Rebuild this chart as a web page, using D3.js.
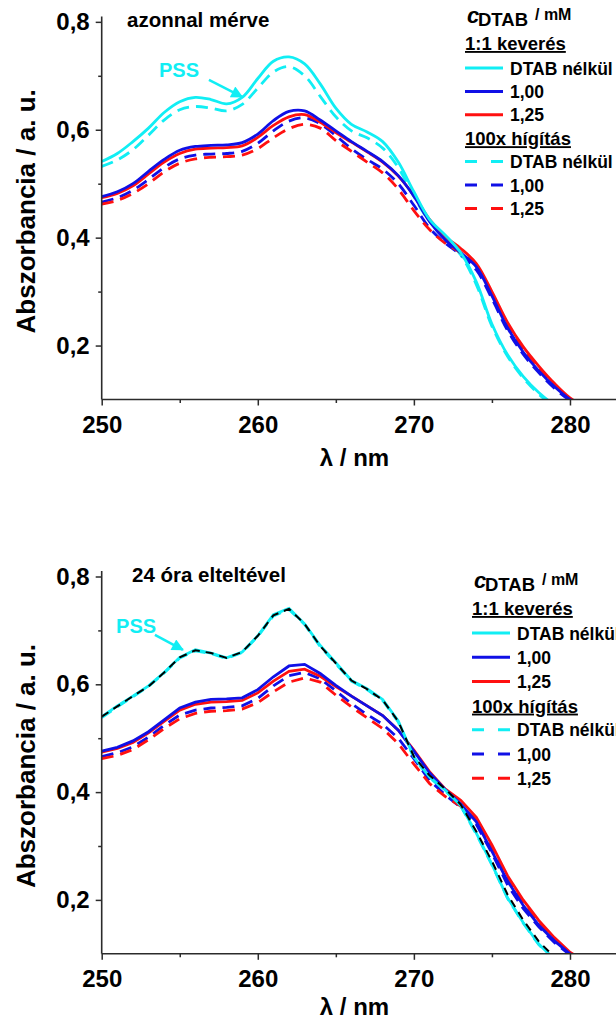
<!DOCTYPE html>
<html>
<head>
<meta charset="utf-8">
<script src="https://cdn.jsdelivr.net/npm/d3@7"></script>
<style>
  html, body { margin: 0; padding: 0; background: #fff; }
  svg { display: block; }
  text { font-family: "Liberation Sans", Arial, sans-serif; font-weight: bold; }
</style>
</head>
<body>
<svg id="chart" width="616" height="1018"></svg>
<script>
// ---------------- DATA ----------------
const wavelengths = [250,251,252,253,254,255,256,257,258,259,260,261,262,263,264,265,266,267,268,269,270,271,272,273,274,275,276,277,278,279,280,281];

// Panel 1: "azonnal mérve"
const topCyanSolid  = [0.541,0.556,0.578,0.603,0.632,0.652,0.660,0.656,0.648,0.660,0.695,0.727,0.735,0.722,0.685,0.640,0.610,0.596,0.578,0.540,0.485,0.434,0.405,0.372,0.318,0.240,0.183,0.143,0.113,0.090,0.074,0.061];
const topBlueSolid  = [0.476,0.485,0.500,0.523,0.545,0.562,0.569,0.571,0.572,0.576,0.592,0.617,0.634,0.635,0.618,0.598,0.578,0.560,0.541,0.515,0.477,0.430,0.396,0.372,0.346,0.292,0.233,0.188,0.153,0.124,0.100,0.082];
const topRedSolid   = [0.474,0.482,0.496,0.518,0.540,0.556,0.564,0.566,0.567,0.570,0.586,0.608,0.624,0.628,0.614,0.595,0.577,0.559,0.540,0.514,0.478,0.434,0.402,0.380,0.352,0.300,0.243,0.198,0.162,0.130,0.103,0.085];
const topCyanDashed = [0.532,0.544,0.563,0.590,0.618,0.637,0.643,0.640,0.635,0.647,0.677,0.707,0.717,0.700,0.662,0.624,0.598,0.585,0.566,0.530,0.476,0.430,0.400,0.368,0.313,0.236,0.180,0.140,0.110,0.087,0.070,0.058];
const topBlueDashed = [0.466,0.474,0.488,0.508,0.530,0.546,0.553,0.555,0.556,0.560,0.575,0.598,0.616,0.622,0.611,0.589,0.565,0.545,0.527,0.500,0.460,0.418,0.390,0.368,0.340,0.287,0.228,0.184,0.150,0.121,0.098,0.080];
const topRedDashed  = [0.462,0.469,0.482,0.500,0.522,0.538,0.546,0.549,0.550,0.553,0.565,0.585,0.602,0.610,0.603,0.580,0.560,0.540,0.520,0.490,0.450,0.415,0.390,0.372,0.348,0.296,0.238,0.193,0.158,0.127,0.101,0.083];

// Panel 2: "24 óra elteltével"
const botCyanSolid   = [0.540,0.560,0.578,0.597,0.622,0.650,0.664,0.658,0.649,0.660,0.690,0.729,0.741,0.712,0.672,0.640,0.607,0.592,0.572,0.532,0.465,0.428,0.404,0.375,0.324,0.266,0.204,0.158,0.118,0.090,0.072,0.060];
const botBlueSolid   = [0.476,0.483,0.495,0.512,0.534,0.556,0.567,0.572,0.573,0.575,0.590,0.614,0.634,0.637,0.620,0.598,0.578,0.560,0.542,0.515,0.476,0.436,0.405,0.378,0.345,0.290,0.235,0.190,0.153,0.124,0.100,0.082];
const botRedSolid    = [0.474,0.481,0.492,0.510,0.531,0.552,0.563,0.567,0.568,0.570,0.584,0.606,0.624,0.628,0.615,0.596,0.578,0.560,0.542,0.515,0.478,0.438,0.406,0.385,0.353,0.302,0.245,0.200,0.162,0.130,0.103,0.085];
const botCyanDashed  = [0.538,0.558,0.577,0.596,0.621,0.649,0.662,0.657,0.648,0.659,0.689,0.727,0.739,0.711,0.670,0.638,0.606,0.590,0.570,0.530,0.463,0.427,0.403,0.374,0.322,0.265,0.203,0.157,0.117,0.089,0.071,0.059];
const botBlueDashed  = [0.466,0.473,0.484,0.502,0.524,0.543,0.552,0.556,0.557,0.560,0.574,0.597,0.616,0.622,0.610,0.588,0.564,0.544,0.526,0.500,0.462,0.422,0.395,0.372,0.340,0.287,0.228,0.184,0.150,0.121,0.098,0.080];
const botRedDashed   = [0.462,0.468,0.479,0.497,0.518,0.536,0.546,0.550,0.551,0.554,0.566,0.586,0.604,0.612,0.604,0.580,0.558,0.538,0.518,0.490,0.452,0.416,0.392,0.374,0.348,0.296,0.238,0.193,0.158,0.127,0.101,0.083];
const botBlackDashed = [0.540,0.559,0.578,0.596,0.622,0.650,0.663,0.658,0.649,0.660,0.690,0.728,0.740,0.712,0.671,0.639,0.607,0.591,0.571,0.531,0.466,0.431,0.406,0.377,0.327,0.272,0.210,0.163,0.123,0.094,0.075,0.062];

// Ticks
const xMajorTicks = [250, 260, 270, 280];
const xMinorTicks = [255, 265, 275, 285];
const yMajorTicks = [0.2, 0.4, 0.6, 0.8];
const yMinorTicks = [0.3, 0.5, 0.7];
const yTickLabels = ["0,2", "0,4", "0,6", "0,8"];

// Legend
const legendTitle = { c: "c", sub: "DTAB", unit: "/ mM" };
const groupHeaders = ["1:1 keverés", "100x hígítás"];
const seriesLabels = ["DTAB nélkül", "1,00", "1,25"];
const panelTitles = ["azonnal mérve", "24 óra elteltével"];
const annotationText = "PSS";
const xAxisTitle = "λ / nm";
const yAxisTitle = "Abszorbancia / a. u.";

// ---------------- STYLE ----------------
const CYAN = "#11eef4", BLUE = "#1010e6", RED = "#ff1010";
const colors = [CYAN, BLUE, RED];

const svg = d3.select("#chart");
const defs = svg.append("defs");
defs.append("marker").attr("id", "arrowhead")
  .attr("viewBox", "0 0 10 10").attr("refX", 9).attr("refY", 5)
  .attr("markerWidth", 15).attr("markerHeight", 12).attr("markerUnits", "userSpaceOnUse")
  .attr("orient", "auto")
  .append("path").attr("d", "M0,0 L10,5 L0,10 z").attr("fill", CYAN);

const panels = [
  {
    y0: 399.5, k: 539.5, title: panelTitles[0], titleX: 127, xTitleOff: 66,
    solids: [topCyanSolid, topBlueSolid, topRedSolid],
    dashes: [topCyanDashed, topBlueDashed, topRedDashed],
    black: null, curve: d3.curveCatmullRom.alpha(0.5),
    legendX: 465, legendTop: 0,
    pss: { tx: 253.67, ty: 0.698, x1: 256.87, y1: 0.6925, x2: 259.0, y2: 0.661 }
  },
  {
    y0: 953.8, k: 539, title: panelTitles[1], titleX: 132, xTitleOff: 61,
    solids: [botCyanSolid, botBlueSolid, botRedSolid],
    dashes: [botCyanDashed, botBlueDashed, botRedDashed],
    black: botBlackDashed, curve: d3.curveLinear,
    legendX: 472, legendTop: 565,
    pss: { tx: 250.92, ty: 0.6955, x1: 253.41, y1: 0.6918, x2: 255.2, y2: 0.664 }
  }
];

const x = d3.scaleLinear().domain([250, 283]).range([101.7, 616.8]);

panels.forEach((p, pi) => {
  const y = d3.scaleLinear().domain([0.1, 0.81]).range([p.y0, p.y0 - 0.71 * p.k]);
  const g = svg.append("g");

  const clipId = "clip" + pi;
  defs.append("clipPath").attr("id", clipId).append("rect")
    .attr("x", x(250)).attr("y", y(0.81) - 10)
    .attr("width", 620 - x(250)).attr("height", y(0.1) - y(0.81) + 10);

  const line = d3.line().x((d, i) => x(wavelengths[i])).y(d => y(d)).curve(p.curve);
  const plot = g.append("g").attr("clip-path", `url(#${clipId})`);

  // dashed series
  p.dashes.forEach((s, i) => {
    plot.append("path").datum(s).attr("d", line)
      .attr("fill", "none").attr("stroke", colors[i]).attr("stroke-width", 2.8)
      .attr("stroke-dasharray", "12,7");
  });
  // solid series
  [2, 1, 0].forEach(i => {
    plot.append("path").datum(p.solids[i]).attr("d", line)
      .attr("fill", "none").attr("stroke", colors[i]).attr("stroke-width", 2.8);
  });
  if (p.black) {
    plot.append("path").datum(p.black).attr("d", line)
      .attr("fill", "none").attr("stroke", "#000").attr("stroke-width", 2)
      .attr("stroke-dasharray", "8,6");
  }

  // axes
  const axisColor = "#2b2b2b";
  const xAxis = g.append("g").attr("transform", `translate(0,${y(0.1)})`)
    .call(d3.axisBottom(x).tickValues(xMajorTicks).tickSize(6).tickPadding(10).tickFormat(d3.format("d")));
  const xMinor = g.append("g").attr("transform", `translate(0,${y(0.1)})`)
    .call(d3.axisBottom(x).tickValues(xMinorTicks).tickSize(3.5).tickFormat(""));
  const yAxis = g.append("g").attr("transform", `translate(${x(250)},0)`)
    .call(d3.axisLeft(y).tickValues(yMajorTicks).tickSize(6).tickPadding(6)
      .tickFormat((d, i) => yTickLabels[i]));
  const yMinor = g.append("g").attr("transform", `translate(${x(250)},0)`)
    .call(d3.axisLeft(y).tickValues(yMinorTicks).tickSize(3.5).tickFormat(""));
  [xAxis, xMinor, yAxis, yMinor].forEach(a => {
    a.select(".domain").remove();
    a.selectAll("line").attr("stroke", axisColor).attr("stroke-width", 1.5);
    a.selectAll("text").attr("font-size", 24).attr("fill", "#000")
      .attr("font-family", "'Liberation Sans', Arial, sans-serif").attr("font-weight", "bold");
  });
  g.append("line").attr("x1", x(250)).attr("x2", 620).attr("y1", y(0.1)).attr("y2", y(0.1))
    .attr("stroke", axisColor).attr("stroke-width", 1.6);
  g.append("line").attr("x1", x(250)).attr("x2", x(250)).attr("y1", y(0.1)).attr("y2", y(0.81))
    .attr("stroke", axisColor).attr("stroke-width", 1.6);

  // axis titles
  g.append("text").attr("x", 354.5).attr("y", y(0.1) + p.xTitleOff).attr("text-anchor", "middle")
    .attr("font-size", 24).text(xAxisTitle);
  const ymid = y(0.8) + 189.5;
  g.append("text").attr("transform", `translate(35,${ymid}) rotate(-90)`)
    .attr("text-anchor", "middle").attr("font-size", 26).text(yAxisTitle);

  // panel title
  g.append("text").attr("x", p.titleX).attr("y", y(0.8) + 5).attr("font-size", 20.5).text(p.title);

  // PSS annotation
  g.append("text").attr("x", x(p.pss.tx)).attr("y", y(p.pss.ty)).attr("font-size", 20)
    .attr("fill", CYAN).text(annotationText);
  g.append("line").attr("x1", x(p.pss.x1)).attr("y1", y(p.pss.y1))
    .attr("x2", x(p.pss.x2)).attr("y2", y(p.pss.y2))
    .attr("stroke", CYAN).attr("stroke-width", 2.5).attr("marker-end", "url(#arrowhead)");

  // legend
  const lx = p.legendX, lt = p.legendTop;
  const lg = g.append("g");
  lg.append("text").attr("x", lx + 2).attr("y", lt + 23).attr("font-size", 22)
    .attr("font-style", "italic").text(legendTitle.c);
  lg.append("text").attr("x", lx + 13).attr("y", lt + 26).attr("font-size", 18.5).text(legendTitle.sub);
  lg.append("text").attr("x", lx + 70).attr("y", lt + 20).attr("font-size", 16).text(legendTitle.unit);

  const rowStep = pi === 0 ? 23.4 : 24.2;
  const header1 = lt + 50;
  const rows1 = [lt + 68, lt + 68 + rowStep, lt + 68 + 2 * rowStep];
  const header2 = rows1[2] + rowStep + 7;
  const rows2 = [rows1[2] + 2 * rowStep, rows1[2] + 3 * rowStep, rows1[2] + 4 * rowStep];

  [[header1, groupHeaders[0]], [header2, groupHeaders[1]]].forEach(([hy, t]) => {
    lg.append("text").attr("x", lx).attr("y", hy).attr("font-size", 18.5)
      .attr("text-decoration", "underline").text(t);
  });
  [rows1, rows2].forEach((rows, gi) => {
    rows.forEach((ry, i) => {
      const ln = lg.append("line").attr("x1", lx).attr("x2", lx + 38).attr("y1", ry).attr("y2", ry)
        .attr("stroke", colors[i]).attr("stroke-width", 3);
      if (gi === 1) ln.attr("stroke-dasharray", "12,14");
      lg.append("text").attr("x", lx + 45).attr("y", ry + 6.5).attr("font-size", 17.5).text(seriesLabels[i]);
    });
  });
});
</script>
</body>
</html>
